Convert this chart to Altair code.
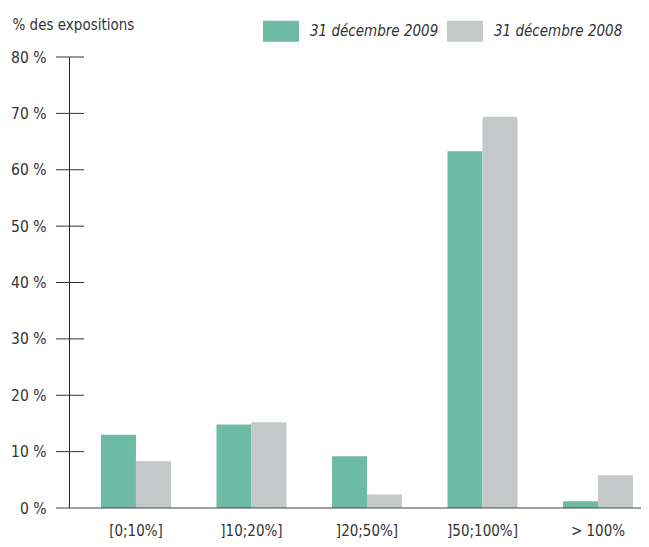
import altair as alt
import pandas as pd

categories = ["[0;10%]", "]10;20%]", "]20;50%]", "]50;100%]", "> 100%"]
series = ["31 décembre 2009", "31 décembre 2008"]
values_2009 = [13.0, 14.8, 9.2, 63.3, 1.2]
values_2008 = [8.3, 15.2, 2.4, 69.4, 5.8]
tick_values = [10, 20, 30, 40, 50, 60, 70, 80]
colors = ["#6dbba4", "#c5c8c9"]
y_title = "% des expositions"

rows = []
for c, a, b in zip(categories, values_2009, values_2008):
    rows.append({"cat": c, "serie": series[0], "v": a})
    rows.append({"cat": c, "serie": series[1], "v": b})
df = pd.DataFrame(rows)
ticks_df = pd.DataFrame({"v": tick_values})
base_df = pd.DataFrame({"v": [0]})

FONT = "DejaVu Sans Condensed, Liberation Sans, sans-serif"
yscale = alt.Scale(domain=[0, 80], nice=False, zero=True)

y_axis = alt.Axis(
    values=[0, 10, 20, 30, 40, 50, 60, 70, 80],
    labelExpr="datum.value + ' %'",
    grid=False, ticks=False, domain=True, domainColor="#222222", domainWidth=1,
    labelPadding=23, labelFontSize=15.5, labelColor="#333333", labelFont=FONT,
    title=y_title, titleAngle=0, titleX=-57, titleY=-28, titleAlign="left",
    titleBaseline="alphabetic", titleFontSize=15, titleFontWeight="normal",
    titleColor="#333333", titleFont=FONT,
)

bars = alt.Chart(df).mark_bar().encode(
    x=alt.X("cat:N", sort=categories,
            scale=alt.Scale(paddingInner=0.394, paddingOuter=0.173, align=0.8),
            axis=alt.Axis(title=None, labelAngle=0, domain=False, ticks=False,
                          labelPadding=15, labelFontSize=15, labelColor="#333333",
                          labelFont=FONT)),
    xOffset=alt.XOffset("serie:N", sort=series,
                        scale=alt.Scale(paddingInner=0, paddingOuter=0)),
    y=alt.Y("v:Q", scale=yscale, axis=y_axis),
    color=alt.Color("serie:N", sort=series,
                    scale=alt.Scale(domain=series, range=colors),
                    legend=alt.Legend(
                        title=None, orient="none", legendX=194, legendY=-44,
                        direction="horizontal",
                        symbolType="M-1,-0.583H1V0.583H-1Z", symbolSize=1296,
                        symbolStrokeWidth=0, symbolOpacity=1,
                        labelFontSize=15, labelFontStyle="italic",
                        labelColor="#333333", labelFont=FONT, labelOffset=11,
                        columnPadding=8)),
)

tick_rules = alt.Chart(ticks_df).mark_rule(color="#333333", strokeWidth=1).encode(
    y=alt.Y("v:Q", scale=yscale, axis=y_axis),
    x=alt.value(-13),
    x2=alt.value(15),
)

baseline = alt.Chart(base_df).mark_rule(color="#444444", strokeWidth=1.2).encode(
    y=alt.Y("v:Q", scale=yscale, axis=y_axis),
    x=alt.value(-13),
    x2=alt.value(572),
)

chart = alt.layer(bars, tick_rules, baseline).properties(
    width=572, height=451,
    background="white",
    autosize=alt.AutoSizeParams(type="none"),
    padding={"left": 61, "top": 49, "right": 0, "bottom": 30},
).configure_view(strokeWidth=0, stroke=None)

chart.save("out.html", embed_options={"renderer": "svg", "actions": False})
